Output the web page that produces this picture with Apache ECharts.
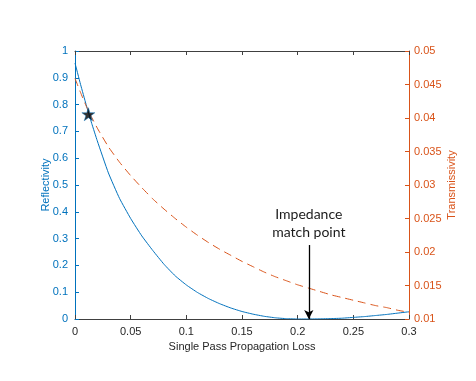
<!DOCTYPE html>
<html>
<head>
<meta charset="utf-8">
<script src="https://cdn.jsdelivr.net/npm/echarts@6/dist/echarts.min.js"></script>
<style>
  html, body { margin: 0; padding: 0; background: #fff; }
  #chart { width: 476px; height: 381px; }
</style>
</head>
<body>
<div id="chart"></div>
<script>
// values
const lossX = [0, 0.005, 0.01, 0.015, 0.02, 0.03, 0.04, 0.05, 0.06, 0.07, 0.08, 0.09, 0.10,
  0.11, 0.12, 0.13, 0.14, 0.15, 0.16, 0.17, 0.18, 0.19, 0.20, 0.21, 0.22, 0.23, 0.24,
  0.25, 0.26, 0.27, 0.28, 0.29, 0.30];
const reflectivity = [0.955, 0.875, 0.80, 0.73, 0.665, 0.545, 0.45, 0.375, 0.31, 0.255, 0.204,
  0.161, 0.127, 0.099, 0.076, 0.057, 0.041, 0.028, 0.018, 0.010, 0.0045, 0.0012, 0.0001, 0.0,
  0.0005, 0.0015, 0.003, 0.006, 0.009, 0.013, 0.017, 0.022, 0.027];
const transmissivity = [0.0459, 0.0438, 0.0418, 0.0401, 0.0385, 0.0357, 0.0334, 0.0314, 0.0296,
  0.0279, 0.0264, 0.0250, 0.0237, 0.0225, 0.0214, 0.0204, 0.0195, 0.0186, 0.0178, 0.0170,
  0.0163, 0.0157, 0.0151, 0.0146, 0.0141, 0.0136, 0.0132, 0.0128, 0.0124, 0.0120, 0.0117,
  0.0113, 0.0110];
const starPoint = [0.012, 0.764];
const matchArrow = [[0.21, 0.276], [0.21, 0]];
const annotationText = 'Impedance\nmatch point';

const blue = '#0072BD';
const orange = '#D95319';
const axisGray = '#404040';

const chart = echarts.init(document.getElementById('chart'));
chart.setOption({
  animation: false,
  grid: { left: 75, right: 67, top: 51, bottom: 62 },
  xAxis: [
    {
      type: 'value', min: 0, max: 0.3, interval: 0.05,
      name: 'Single Pass Propagation Loss', nameLocation: 'middle', nameGap: 19,
      nameTextStyle: { color: '#262626', fontFamily: 'Liberation Sans', fontSize: 11 },
      axisLine: { show: true, onZero: false, lineStyle: { color: axisGray, width: 1 } },
      axisTick: { show: true, inside: true, length: 4, lineStyle: { color: axisGray } },
      axisLabel: { color: '#262626', fontFamily: 'Liberation Sans', fontSize: 11, margin: 7 },
      splitLine: { show: false }
    },
    {
      type: 'value', min: 0, max: 0.3, interval: 0.05, position: 'top',
      axisLine: { show: true, onZero: false, lineStyle: { color: axisGray, width: 1 } },
      axisTick: { show: true, inside: true, length: 4, lineStyle: { color: axisGray } },
      axisLabel: { show: false },
      splitLine: { show: false }
    }
  ],
  yAxis: [
    {
      type: 'value', min: 0, max: 1, interval: 0.1, position: 'left',
      name: 'Reflectivity', nameLocation: 'middle', nameGap: 24, nameMoveOverlap: false,
      nameTextStyle: { color: blue, fontFamily: 'Liberation Sans', fontSize: 11 },
      axisLine: { show: true, onZero: false, lineStyle: { color: blue, width: 1 } },
      axisTick: { show: true, inside: true, length: 4, lineStyle: { color: blue } },
      axisLabel: { color: blue, fontFamily: 'Liberation Sans', fontSize: 11, margin: 7 },
      splitLine: { show: false }
    },
    {
      type: 'value', min: 0.01, max: 0.05, interval: 0.005, position: 'right',
      name: 'Transmissivity', nameLocation: 'middle', nameGap: 37, nameRotate: 90,
      nameMoveOverlap: false,
      nameTextStyle: { color: orange, fontFamily: 'Liberation Sans', fontSize: 11 },
      axisLine: { show: true, onZero: false, lineStyle: { color: orange, width: 1 } },
      axisTick: { show: true, inside: true, length: 4, lineStyle: { color: orange } },
      axisLabel: { color: orange, fontFamily: 'Liberation Sans', fontSize: 11, margin: 5 },
      splitLine: { show: false }
    }
  ],
  series: [
    {
      name: 'Reflectivity', type: 'line', xAxisIndex: 0, yAxisIndex: 0,
      data: lossX.map((x, i) => [x, reflectivity[i]]),
      smooth: 0.15, showSymbol: false,
      lineStyle: { color: blue, width: 1 },
      markLine: {
        silent: true,
        symbol: ['none', 'arrow'], symbolSize: [7, 9],
        lineStyle: { color: '#000', width: 1.3, type: 'solid' },
        label: {
          show: true, position: 'start', distance: 4,
          formatter: annotationText,
          color: '#1a1a1a', fontFamily: 'Lato', fontSize: 14, lineHeight: 18
        },
        data: [[{ coord: matchArrow[0] }, { coord: matchArrow[1] }]]
      }
    },
    {
      name: 'Transmissivity', type: 'line', xAxisIndex: 0, yAxisIndex: 1,
      data: lossX.map((x, i) => [x, transmissivity[i]]),
      smooth: 0.15, showSymbol: false,
      lineStyle: { color: orange, width: 1, type: [8, 5] }
    },
    {
      name: 'star', type: 'scatter', xAxisIndex: 0, yAxisIndex: 0,
      data: [starPoint],
      symbol: 'path://M50,0 L61.8,35.4 L99,35.4 L69.1,57.3 L80.9,92.7 L50,70.8 L19.1,92.7 L30.9,57.3 L1,35.4 L38.2,35.4 Z',
      symbolSize: 13,
      itemStyle: { color: '#000', borderColor: blue, borderWidth: 0.6 },
      z: 5
    }
  ]
});
</script>
</body>
</html>
